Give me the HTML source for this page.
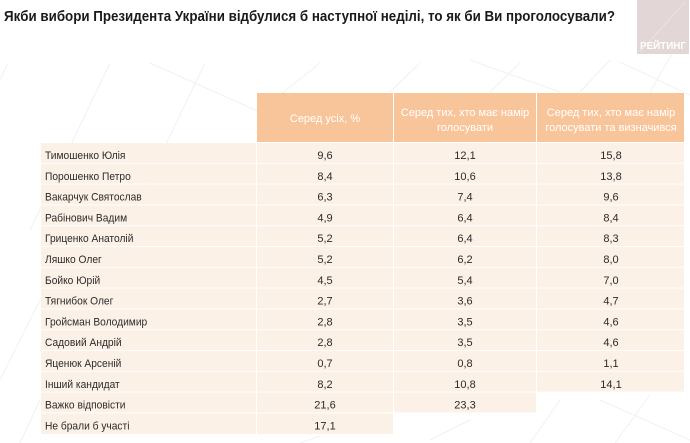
<!DOCTYPE html>
<html>
<head>
<meta charset="utf-8">
<style>
  html, body { margin:0; padding:0; background:#ffffff; }
  body { width:690px; height:443px; overflow:hidden; }
  svg { display:block; }
  .t { font-family:"Liberation Sans", "DejaVu Sans", sans-serif; }
</style>
</head>
<body>
<svg width="690" height="443" viewBox="0 0 690 443" xmlns="http://www.w3.org/2000/svg">
  <rect x="0" y="0" width="690" height="443" fill="#ffffff"/>
  <!-- faint background lines -->
  <g stroke="#f1f1f1" stroke-width="1" fill="none">
    <line x1="8" y1="63" x2="-10" y2="100"/>
    <line x1="110" y1="63" x2="30" y2="230"/>
    <line x1="205" y1="63" x2="120" y2="240"/>
    <line x1="150" y1="63" x2="300" y2="130"/>
    <line x1="320" y1="63" x2="280" y2="95"/>
    <line x1="420" y1="63" x2="390" y2="92"/>
    <line x1="520" y1="63" x2="490" y2="92"/>
    <line x1="610" y1="60" x2="580" y2="92"/>
    <line x1="680" y1="40" x2="650" y2="92"/>
    <line x1="470" y1="60" x2="560" y2="92"/>
    <line x1="620" y1="62" x2="690" y2="95"/>
    <line x1="40" y1="300" x2="0" y2="380"/>
    <line x1="40" y1="400" x2="20" y2="443"/>
    <line x1="560" y1="400" x2="530" y2="443"/>
    <line x1="650" y1="395" x2="615" y2="443"/>
    <line x1="600" y1="400" x2="690" y2="440"/>
    <line x1="430" y1="440" x2="470" y2="420"/>
    <line x1="300" y1="443" x2="320" y2="436"/>
  </g>

  <!-- logo -->
  <rect x="637" y="0" width="52" height="54" fill="#e3d6d6"/>
  <line x1="685" y1="2" x2="640" y2="52" stroke="#ebe2e2" stroke-width="1"/>
  <text class="t" x="663" y="49" font-size="10" font-weight="bold" fill="#ffffff" text-anchor="middle" textLength="46" lengthAdjust="spacingAndGlyphs">РЕЙТИНГ</text>

  <!-- title -->
  <text class="t" x="4" y="21" font-size="14.5" font-weight="bold" fill="#1a1a1a" textLength="611" lengthAdjust="spacingAndGlyphs">Якби вибори Президента України відбулися б наступної неділі, то як би Ви проголосували?</text>

  <!-- header -->
  <g fill="#f8c49a">
    <rect x="257" y="93" width="136" height="49"/>
    <rect x="394" y="93" width="142" height="49"/>
    <rect x="537" y="93" width="147" height="49"/>
  </g>
  <g class="t" font-size="11" fill="#ffffff" text-anchor="middle">
    <text x="325" y="122">Серед усіх, %</text>
    <text x="465" y="116">Серед тих, хто має намір</text>
    <text x="465" y="131">голосувати</text>
    <text x="611" y="116">Серед тих, хто має намір</text>
    <text x="611" y="131">голосувати та визначився</text>
  </g>

  <!-- body cells -->
  <g fill="#fcf1e7">
    <rect x="41" y="143" width="215" height="19.8"/><rect x="257" y="143" width="136" height="19.8"/><rect x="394" y="143" width="142" height="19.8"/><rect x="537" y="143" width="147" height="19.8"/>
    <rect x="41" y="163.8" width="215" height="19.8"/><rect x="257" y="163.8" width="136" height="19.8"/><rect x="394" y="163.8" width="142" height="19.8"/><rect x="537" y="163.8" width="147" height="19.8"/>
    <rect x="41" y="184.6" width="215" height="19.8"/><rect x="257" y="184.6" width="136" height="19.8"/><rect x="394" y="184.6" width="142" height="19.8"/><rect x="537" y="184.6" width="147" height="19.8"/>
    <rect x="41" y="205.4" width="215" height="19.8"/><rect x="257" y="205.4" width="136" height="19.8"/><rect x="394" y="205.4" width="142" height="19.8"/><rect x="537" y="205.4" width="147" height="19.8"/>
    <rect x="41" y="226.2" width="215" height="19.8"/><rect x="257" y="226.2" width="136" height="19.8"/><rect x="394" y="226.2" width="142" height="19.8"/><rect x="537" y="226.2" width="147" height="19.8"/>
    <rect x="41" y="247" width="215" height="19.8"/><rect x="257" y="247" width="136" height="19.8"/><rect x="394" y="247" width="142" height="19.8"/><rect x="537" y="247" width="147" height="19.8"/>
    <rect x="41" y="267.8" width="215" height="19.8"/><rect x="257" y="267.8" width="136" height="19.8"/><rect x="394" y="267.8" width="142" height="19.8"/><rect x="537" y="267.8" width="147" height="19.8"/>
    <rect x="41" y="288.6" width="215" height="19.8"/><rect x="257" y="288.6" width="136" height="19.8"/><rect x="394" y="288.6" width="142" height="19.8"/><rect x="537" y="288.6" width="147" height="19.8"/>
    <rect x="41" y="309.4" width="215" height="19.8"/><rect x="257" y="309.4" width="136" height="19.8"/><rect x="394" y="309.4" width="142" height="19.8"/><rect x="537" y="309.4" width="147" height="19.8"/>
    <rect x="41" y="330.2" width="215" height="19.8"/><rect x="257" y="330.2" width="136" height="19.8"/><rect x="394" y="330.2" width="142" height="19.8"/><rect x="537" y="330.2" width="147" height="19.8"/>
    <rect x="41" y="351" width="215" height="19.8"/><rect x="257" y="351" width="136" height="19.8"/><rect x="394" y="351" width="142" height="19.8"/><rect x="537" y="351" width="147" height="19.8"/>
    <rect x="41" y="371.8" width="215" height="19.8"/><rect x="257" y="371.8" width="136" height="19.8"/><rect x="394" y="371.8" width="142" height="19.8"/><rect x="537" y="371.8" width="147" height="19.8"/>
    <rect x="41" y="392.6" width="215" height="19.8"/><rect x="257" y="392.6" width="136" height="19.8"/><rect x="394" y="392.6" width="142" height="19.8"/>
    <rect x="41" y="413.4" width="215" height="20.6"/><rect x="257" y="413.4" width="136" height="20.6"/>
  </g>

  <!-- names -->
  <g class="t" font-size="11" fill="#2b2b2b">
    <g transform="translate(45,0) scale(0.93,1)">
      <text x="0" y="159">Тимошенко Юлія</text>
      <text x="0" y="179.8">Порошенко Петро</text>
      <text x="0" y="200.6">Вакарчук Святослав</text>
      <text x="0" y="221.4">Рабінович Вадим</text>
      <text x="0" y="242.2">Гриценко Анатолій</text>
      <text x="0" y="263">Ляшко Олег</text>
      <text x="0" y="283.8">Бойко Юрій</text>
      <text x="0" y="304.6">Тягнибок Олег</text>
      <text x="0" y="325.4">Гройсман Володимир</text>
      <text x="0" y="346.2">Садовий Андрій</text>
      <text x="0" y="367">Яценюк Арсеній</text>
      <text x="0" y="387.8">Інший кандидат</text>
      <text x="0" y="408.6">Важко відповісти</text>
      <text x="0" y="429.4">Не брали б участі</text>
    </g>
  </g>

  <!-- values -->
  <g class="t" font-size="11" fill="#2b2b2b" text-anchor="middle">
    <text x="325" y="159">9,6</text><text x="465" y="159">12,1</text><text x="611" y="159">15,8</text>
    <text x="325" y="179.8">8,4</text><text x="465" y="179.8">10,6</text><text x="611" y="179.8">13,8</text>
    <text x="325" y="200.6">6,3</text><text x="465" y="200.6">7,4</text><text x="611" y="200.6">9,6</text>
    <text x="325" y="221.4">4,9</text><text x="465" y="221.4">6,4</text><text x="611" y="221.4">8,4</text>
    <text x="325" y="242.2">5,2</text><text x="465" y="242.2">6,4</text><text x="611" y="242.2">8,3</text>
    <text x="325" y="263">5,2</text><text x="465" y="263">6,2</text><text x="611" y="263">8,0</text>
    <text x="325" y="283.8">4,5</text><text x="465" y="283.8">5,4</text><text x="611" y="283.8">7,0</text>
    <text x="325" y="304.6">2,7</text><text x="465" y="304.6">3,6</text><text x="611" y="304.6">4,7</text>
    <text x="325" y="325.4">2,8</text><text x="465" y="325.4">3,5</text><text x="611" y="325.4">4,6</text>
    <text x="325" y="346.2">2,8</text><text x="465" y="346.2">3,5</text><text x="611" y="346.2">4,6</text>
    <text x="325" y="367">0,7</text><text x="465" y="367">0,8</text><text x="611" y="367">1,1</text>
    <text x="325" y="387.8">8,2</text><text x="465" y="387.8">10,8</text><text x="611" y="387.8">14,1</text>
    <text x="325" y="408.6">21,6</text><text x="465" y="408.6">23,3</text>
    <text x="325" y="429.4">17,1</text>
  </g>
</svg>
</body>
</html>
